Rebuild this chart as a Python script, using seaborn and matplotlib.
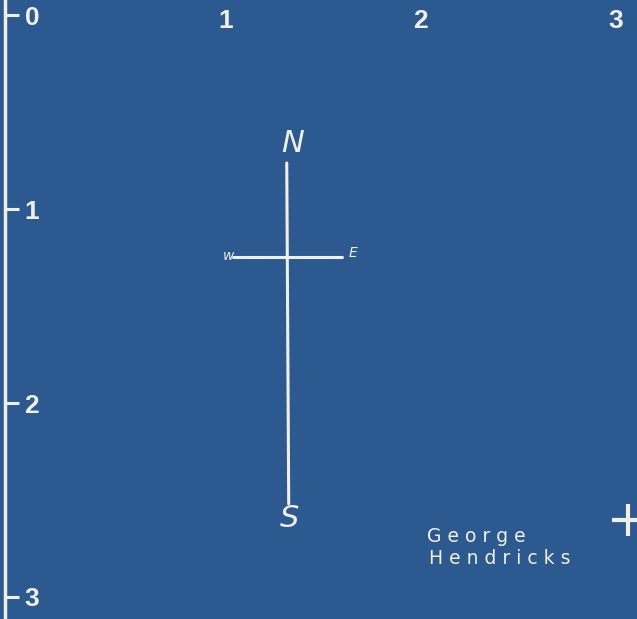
import matplotlib
matplotlib.use('Agg')
import matplotlib.pyplot as plt
import seaborn as sns
import pandas as pd

# grid scale labels
x_ticks = [1, 2, 3]
y_ticks = [0, 1, 2, 3]

# compass lines (north-south and west-east), in grid units
ns_x = [1.313, 1.323]
ns_y = [0.763, 2.52]
we_x = [1.036, 1.595]
we_y = [1.247, 1.247]

# compass letters
dir_labels = ['N', 'S', 'w', 'E']
dir_x = [1.344, 1.328, 1.015, 1.651]
dir_y = [0.66, 2.593, 1.242, 1.227]
dir_sizes = [22, 22, 10, 10]

# signature
sig_lines = ['G e o r g e', 'H e n d r i c k s']
sig_x = [2.03, 2.04]
sig_y = [2.69, 2.80]

# corner mark
mark_x = [3.06]
mark_y = [2.603]

bg = '#2b5990'
ink = '#f1efe2'

sns.set_style('white')
plt.rcParams['font.family'] = ['Liberation Sans', 'DejaVu Sans']

fig = plt.figure(figsize=(6.37, 6.19), dpi=100)
fig.patch.set_facecolor(bg)
ax = fig.add_axes([4.5 / 637, 0, 1 - 4.5 / 637, 1])
ax.set_facecolor(bg)

ns = pd.DataFrame({'x': ns_x, 'y': ns_y})
we = pd.DataFrame({'x': we_x, 'y': we_y})
sns.lineplot(data=ns, x='x', y='y', sort=False, estimator=None, color=ink, lw=2.2, ax=ax)
sns.lineplot(data=we, x='x', y='y', sort=False, estimator=None, color=ink, lw=2.2, ax=ax)
sns.scatterplot(x=mark_x, y=mark_y, marker='+', s=500, linewidth=3, color=ink, ax=ax)

for lab, x, y, s in zip(dir_labels, dir_x, dir_y, dir_sizes):
    ax.text(x, y, lab, color=ink, fontsize=s, style='italic', family='DejaVu Sans',
            ha='center', va='center', fontweight='light')

for t, x, y in zip(sig_lines, sig_x, sig_y):
    ax.text(x, y, t, color=ink, fontsize=13.5, family='DejaVu Sans',
            ha='left', va='center')

ax.set_xlim((5 - 31) / 195, (637 - 31) / 195)
ax.set_ylim(604 / 194, -15 / 194)

# y scale on the left edge, labels inside
ax.set_yticks(y_ticks)
ax.set_yticklabels([str(v) for v in y_ticks])
ax.tick_params(axis='y', direction='in', length=10, width=2.2, color=ink,
               labelcolor=ink, labelsize=19, pad=-25, left=True)
for lab in ax.get_yticklabels():
    lab.set_fontweight('bold')

# x scale along the top, no tick marks
ax.xaxis.tick_top()
ax.set_xticks(x_ticks)
ax.set_xticklabels([str(v) for v in x_ticks])
ax.tick_params(axis='x', length=0, labelcolor=ink, labelsize=19, pad=-24)
for lab in ax.get_xticklabels():
    lab.set_fontweight('bold')

ax.set_xlabel('')
ax.set_ylabel('')
for side in ['top', 'right', 'bottom']:
    ax.spines[side].set_visible(False)
ax.spines['left'].set_color(ink)
ax.spines['left'].set_linewidth(2.5)

fig.savefig('out.png', dpi=100, facecolor=bg)
